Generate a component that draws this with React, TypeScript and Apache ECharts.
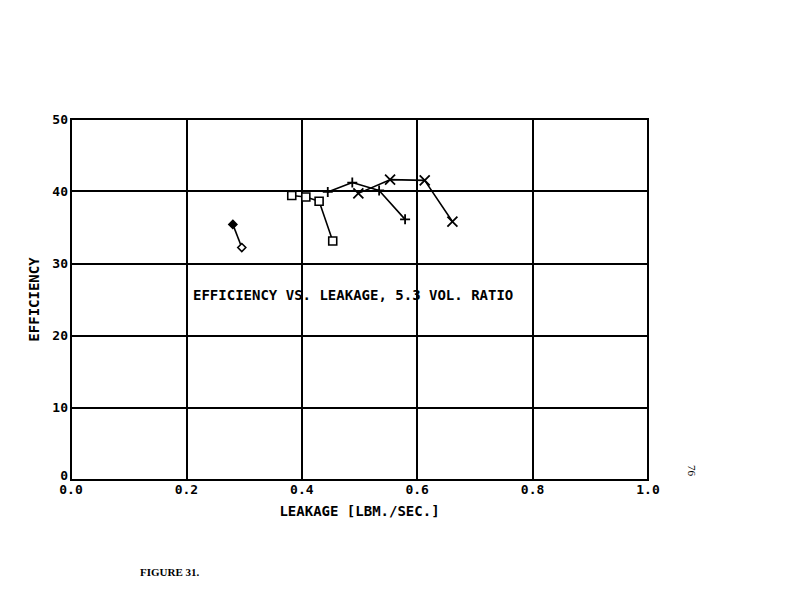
import React, { useEffect, useRef } from "react";
import * as echarts from "echarts";

const xTicks = [0, 0.2, 0.4, 0.6, 0.8, 1.0];
const yTicks = [0, 10, 20, 30, 40, 50];

const diamondX = [0.2805, 0.296];
const diamondY = [35.4, 32.2];
const squareX = [0.3826, 0.407, 0.43, 0.4536];
const squareY = [39.4, 39.2, 38.6, 33.1];
const plusX = [0.445, 0.4875, 0.534, 0.579];
const plusY = [39.9, 41.2, 40.1, 36.1];
const crossX = [0.498, 0.553, 0.613, 0.661];
const crossY = [39.7, 41.6, 41.5, 35.8];

const title = "EFFICIENCY VS. LEAKAGE, 5.3 VOL. RATIO";
const xName = "LEAKAGE [LBM./SEC.]";
const yName = "EFFICIENCY";
const figLabel = "FIGURE 31.";
const pageNum = "76";

const zip = (xs: number[], ys: number[]) => xs.map((x, i) => [x, ys[i]]);

const FONT = "DejaVu Sans Mono";

export default function App() {
  const ref = useRef<HTMLDivElement>(null);
  useEffect(() => {
    if (!ref.current) return;
    const chart = echarts.init(ref.current, null, { renderer: "svg" });
    const baseSeries = {
      type: "line" as const,
      lineStyle: { color: "#000", width: 1.6 },
      itemStyle: { color: "#fff", borderColor: "#000", borderWidth: 1.6 },
      z: 5,
    };
    const diamondData = zip(diamondX, diamondY).map((p, i) =>
      i === 0 ? { value: p, itemStyle: { color: "#000" } } : { value: p }
    );
    chart.setOption({
      animation: false,
      backgroundColor: "#fff",
      grid: {
        left: 71,
        right: 144,
        top: 119,
        bottom: 127,
        show: true,
        borderColor: "#000",
        borderWidth: 2,
        backgroundColor: "transparent",
      },
      xAxis: {
        type: "value",
        min: 0,
        max: 1,
        interval: 0.2,
        name: xName,
        nameLocation: "middle",
        nameGap: 24,
        nameTextStyle: { fontFamily: FONT, fontWeight: "bold", fontSize: 14, color: "#000" },
        axisLine: { show: true, lineStyle: { color: "#000", width: 2 } },
        axisTick: { show: false },
        splitLine: { show: true, lineStyle: { color: "#000", width: 2 } },
        axisLabel: {
          formatter: (v: number) => v.toFixed(1),
          fontFamily: FONT,
          fontWeight: "bold",
          fontSize: 13,
          color: "#000",
          margin: 3,
        },
      },
      yAxis: {
        type: "value",
        min: 0,
        max: 50,
        interval: 10,
        name: yName,
        nameLocation: "middle",
        nameGap: 27,
        nameTextStyle: { fontFamily: FONT, fontWeight: "bold", fontSize: 14, color: "#000" },
        axisLine: { show: true, lineStyle: { color: "#000", width: 2 } },
        axisTick: { show: false },
        splitLine: { show: true, lineStyle: { color: "#000", width: 2 } },
        axisLabel: {
          formatter: (v: number) => (v === 0 ? "{z|0}" : String(v)),
          rich: { z: { padding: [0, 0, 10, 0], fontFamily: FONT, fontWeight: "bold", fontSize: 13, color: "#000" } },
          fontFamily: FONT,
          fontWeight: "bold",
          fontSize: 13,
          color: "#000",
          margin: 3,
        },
      },
      graphic: [
        {
          type: "text",
          left: 193,
          top: 288,
          style: { text: title, fontFamily: FONT, fontWeight: "bold", fontSize: 14, fill: "#000" },
          z: 10,
        },
        {
          type: "text",
          left: 140,
          top: 566,
          style: { text: figLabel, fontFamily: "Liberation Serif", fontWeight: "bold", fontSize: 11, fill: "#000" },
        },
        {
          type: "text",
          x: 697,
          y: 465,
          rotation: -Math.PI / 2,
          style: { text: pageNum, fontFamily: "Liberation Serif", fontSize: 11, fill: "#000" },
        },
      ],
      series: [
        {
          ...baseSeries,
          data: diamondData,
          symbol: "diamond",
          symbolSize: 8,
        },
        {
          ...baseSeries,
          data: zip(squareX, squareY),
          symbol: "rect",
          symbolSize: 8,
        },
        {
          ...baseSeries,
          data: zip(plusX, plusY),
          symbol: "path://M5,0L5,10M0,5L10,5",
          symbolSize: 10,
          itemStyle: { color: "none", borderColor: "#000", borderWidth: 1.8 },
        },
        {
          ...baseSeries,
          data: zip(crossX, crossY),
          symbol: "path://M0,0L10,10M10,0L0,10",
          symbolSize: 10,
          itemStyle: { color: "none", borderColor: "#000", borderWidth: 1.8 },
        },
      ],
    });
    return () => chart.dispose();
  }, []);
  return (
    <div
      ref={ref}
      style={{ position: "fixed", left: 0, top: 0, width: 792, height: 607 }}
    />
  );
}
